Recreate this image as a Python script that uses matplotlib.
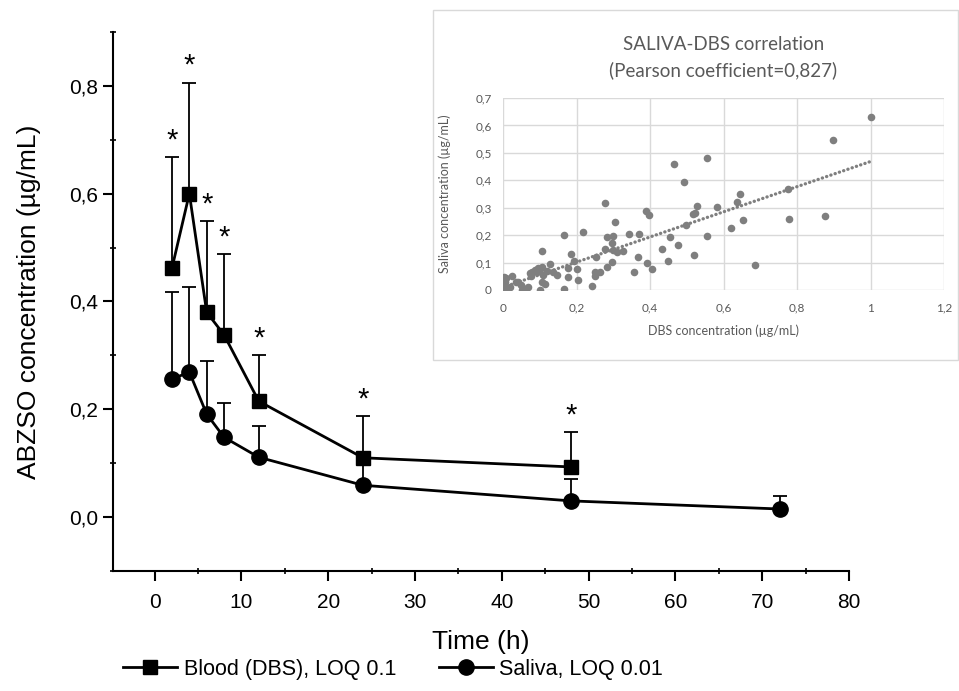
import numpy as np
import matplotlib
matplotlib.use('Agg')
import matplotlib.pyplot as plt
from matplotlib.patches import Rectangle
from matplotlib.lines import Line2D
from matplotlib.ticker import MultipleLocator, FuncFormatter

# pharmacokinetic curves (mean and upper SD)
blood_t = [2, 4, 6, 8, 12, 24, 48]
blood_mean = [0.462, 0.600, 0.380, 0.338, 0.215, 0.110, 0.093]
blood_sd = [0.206, 0.206, 0.169, 0.150, 0.086, 0.077, 0.065]

saliva_t = [2, 4, 6, 8, 12, 24, 48, 72]
saliva_mean = [0.256, 0.269, 0.191, 0.148, 0.111, 0.059, 0.030, 0.015]
saliva_sd = [0.162, 0.158, 0.099, 0.064, 0.058, 0.045, 0.040, 0.024]

# DBS vs saliva scatter for the inset
dbs = [0.003, 0.0, 0.005, 0.01, 0.014, 0.02, 0.024, 0.003, 0.008, 0.035,
       0.042, 0.048, 0.052, 0.06, 0.069, 0.073, 0.075, 0.08, 0.087, 0.092,
       0.095, 0.1, 0.105, 0.105, 0.108, 0.105, 0.113, 0.1, 0.12, 0.128,
       0.135, 0.146, 0.165, 0.167, 0.176, 0.176, 0.185, 0.194, 0.2, 0.203,
       0.219, 0.243, 0.25, 0.25, 0.252, 0.264, 0.278, 0.278, 0.282, 0.282,
       0.296, 0.297, 0.3, 0.3, 0.305, 0.309, 0.326, 0.344, 0.356, 0.368,
       0.371, 0.39, 0.398, 0.393, 0.405, 0.432, 0.448, 0.454, 0.466, 0.477,
       0.493, 0.497, 0.518, 0.523, 0.527, 0.52, 0.554, 0.554, 0.581, 0.621,
       0.637, 0.646, 0.652, 0.686, 0.776, 0.779, 0.875, 0.899, 1.0]
saliva = [0.049, 0.0, 0.03, 0.0, 0.005, 0.012, 0.052, 0.015, 0.042, 0.028,
          0.03, 0.02, 0.0, 0.005, 0.012, 0.061, 0.05, 0.066, 0.073, 0.065,
          0.08, 0.075, 0.141, 0.085, 0.055, 0.03, 0.022, 0.0, 0.07, 0.095,
          0.065, 0.055, 0.005, 0.2, 0.08, 0.046, 0.132, 0.104, 0.075, 0.036,
          0.213, 0.015, 0.065, 0.05, 0.119, 0.067, 0.319, 0.148, 0.192, 0.085,
          0.103, 0.17, 0.197, 0.147, 0.247, 0.138, 0.142, 0.203, 0.065, 0.119,
          0.203, 0.289, 0.275, 0.097, 0.075, 0.148, 0.106, 0.194, 0.458, 0.164,
          0.392, 0.236, 0.276, 0.28, 0.307, 0.128, 0.48, 0.198, 0.302, 0.226,
          0.321, 0.351, 0.254, 0.092, 0.369, 0.258, 0.27, 0.547, 0.632]

sans = 'Liberation Sans'
calib = ['Lato', 'DejaVu Sans']

fig = plt.figure(figsize=(9.59, 6.91), dpi=100)
ax = fig.add_axes([0.1178, 0.1737, 0.7675, 0.78])

comma = FuncFormatter(lambda v, p: ('%.1f' % v).replace('.', ','))

ax.errorbar(saliva_t, saliva_mean, yerr=[np.zeros(len(saliva_sd)), saliva_sd],
            color='black', lw=2, marker='o', ms=11, capsize=5, elinewidth=1.3,
            capthick=1.3)
ax.errorbar(blood_t, blood_mean, yerr=[np.zeros(len(blood_sd)), blood_sd],
            color='black', lw=2, marker='s', ms=9.5, capsize=5, elinewidth=1.3,
            capthick=1.3)

for t, m, s in zip(blood_t, blood_mean, blood_sd):
    ax.annotate('*', (t, m + s), xytext=(0, 2), textcoords='offset points',
                ha='center', va='bottom', fontsize=21, family=sans)

ax.set_xlim(-4.8, 80)
ax.set_ylim(-0.1, 0.9)
ax.xaxis.set_major_locator(MultipleLocator(10))
ax.xaxis.set_minor_locator(MultipleLocator(5))
ax.yaxis.set_minor_locator(MultipleLocator(0.1))
ax.yaxis.set_major_formatter(comma)
ax.set_yticks([0.0, 0.2, 0.4, 0.6, 0.8])
for sp in ['top', 'right']:
    ax.spines[sp].set_visible(False)
for sp in ['left', 'bottom']:
    ax.spines[sp].set_linewidth(1.5)
ax.tick_params(which='major', direction='out', length=7, width=1.5, labelsize=15)
ax.tick_params(axis='x', which='major', pad=9)
ax.tick_params(which='minor', direction='inout', length=5, width=1.2)
for lab in ax.get_xticklabels() + ax.get_yticklabels():
    lab.set_family(sans)

ax.set_xlabel('Time (h)', fontsize=19, family=sans, labelpad=13)
ax.set_ylabel('ABZSO concentration (µg/mL)', fontsize=19, family=sans, labelpad=20)

handles = [Line2D([], [], color='black', lw=2, marker='s', ms=9.5),
           Line2D([], [], color='black', lw=2, marker='o', ms=11)]
labels = ['Blood (DBS), LOQ 0.1', 'Saliva, LOQ 0.01']
fig.legend(handles, labels, loc='lower center', bbox_to_anchor=(0.41, -0.012),
           ncol=2, frameon=False, handlelength=2.5, handletextpad=0.3,
           columnspacing=2.0, prop={'family': sans, 'size': 15.5})

# inset panel
fig.patches.append(Rectangle((433 / 959, 1 - 360 / 691), 525 / 959, 350 / 691,
                             transform=fig.transFigure, facecolor='white',
                             edgecolor='#d9d9d9', lw=1, zorder=2))
ins = fig.add_axes([503 / 959, 1 - 290 / 691, 441 / 959, 192 / 691], zorder=3)
ins.set_xlim(0, 1.2)
ins.set_ylim(0, 0.7)
ins.xaxis.set_major_locator(MultipleLocator(0.2))
ins.yaxis.set_major_locator(MultipleLocator(0.1))
dec = FuncFormatter(lambda v, p: ('%g' % round(v, 1)).replace('.', ','))
ins.xaxis.set_major_formatter(dec)
ins.yaxis.set_major_formatter(dec)
ins.grid(True, color='#d9d9d9', lw=1)
ins.set_axisbelow(True)
for sp in ins.spines.values():
    sp.set_visible(False)
ins.tick_params(axis='x', length=0, labelsize=8.5, labelcolor='#595959', pad=9)
ins.tick_params(axis='y', length=0, labelsize=8.5, labelcolor='#595959', pad=8)
for lab in ins.get_xticklabels() + ins.get_yticklabels():
    lab.set_family(calib)

ins.scatter(dbs, saliva, s=30, color='#7f7f7f', linewidths=0, zorder=3)
k, b = np.polyfit(dbs, saliva, 1)
xx = np.array([min(dbs), max(dbs)])
ins.plot(xx, k * xx + b, color='#7f7f7f', lw=2.4, ls=(0, (0.05, 1.3)),
         dash_capstyle='round', zorder=4)

ins.set_xlabel('DBS concentration (µg/mL)', fontsize=9, color='#595959',
               family=calib, labelpad=8)
ins.set_ylabel('Saliva concentration (µg/mL)', fontsize=9, color='#595959',
               family=calib, labelpad=18)
ins.set_title('SALIVA-DBS correlation\n(Pearson coefficient=0,827)', fontsize=13.5,
              color='#595959', family=calib, pad=16, linespacing=1.55)

fig.savefig('out.png', dpi=100)
